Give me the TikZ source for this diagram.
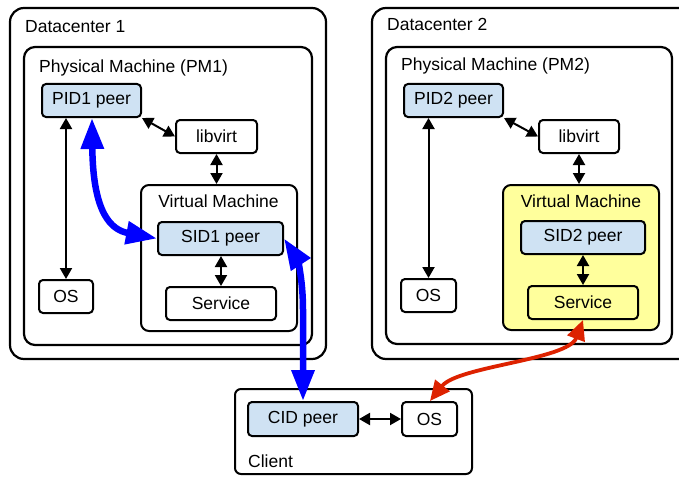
\documentclass[tikz,border=0pt]{standalone}
\usepackage{fontspec}
\setmainfont{Liberation Sans}
\usetikzlibrary{arrows.meta}
\definecolor{peerblue}{HTML}{CFE2F3}
\definecolor{vmyellow}{HTML}{FFFF9C}
\definecolor{linkblue}{HTML}{0000FF}
\definecolor{linkred}{HTML}{DD2200}
\tikzset{
  box/.style={draw=black, line width=2pt, rounded corners=4pt, inner sep=0pt,
              font=\fontsize{17.5}{21}\selectfont},
  peer/.style={box, fill=peerblue},
  container/.style={draw=black, line width=2.2pt, inner sep=0pt},
  lbl/.style={inner sep=0pt, font=\fontsize{17.5}{21}\selectfont},
  biarrow/.style={line width=2pt, {Triangle[length=11pt,width=12pt]}-{Triangle[length=11pt,width=12pt]}},
  bluearrow/.style={draw=linkblue, line width=6.5pt, {Triangle[length=31pt,width=22pt]}-{Triangle[length=31pt,width=22pt]}},
  redarrow/.style={draw=linkred, line width=3.8pt, {Triangle[length=20pt,width=18pt]}-{Triangle[length=20pt,width=18pt]}},
}
\begin{document}
\begin{tikzpicture}[x=1pt,y=-1pt]
\useasboundingbox (0,0) rectangle (679,476);
\clip (0,0) rectangle (679,476);
\fill[white] (0,0) rectangle (679,476);

% Datacenter 1
\node[container, rounded corners=14pt, minimum width=316pt, minimum height=351pt] (dc1) at (168,183.5) {};
\node[lbl, anchor=base west] (dc1lbl) at (25,33) {Datacenter 1};
\node[container, rounded corners=11pt, minimum width=288pt, minimum height=298pt] (pm1) at (168,196) {};
\node[lbl, anchor=base west] (pm1lbl) at (39,73) {Physical Machine (PM1)};
\node[peer, minimum width=99pt, minimum height=33pt] (pid1) at (91.5,100.5) {PID1 peer};
\node[box, minimum width=81pt, minimum height=33pt] (lib1) at (216.5,136.5) {libvirt};
\node[container, line width=2pt, rounded corners=8pt, minimum width=156pt, minimum height=146pt] (vm1) at (219,258) {};
\node[lbl, anchor=base] (vm1lbl) at (218.5,207) {Virtual Machine};
\node[peer, minimum width=125pt, minimum height=33pt] (sid1) at (220.5,238.5) {SID1 peer};
\node[box, minimum width=110pt, minimum height=33pt] (svc1) at (221,303.5) {Service};
\node[box, minimum width=54pt, minimum height=33pt] (os1) at (66,296.5) {OS};

% Datacenter 2
\node[container, rounded corners=14pt, minimum width=320pt, minimum height=351pt] (dc2) at (532,183.5) {};
\node[lbl, anchor=base west] (dc2lbl) at (387,31) {Datacenter 2};
\node[container, rounded corners=11pt, minimum width=286pt, minimum height=297pt] (pm2) at (529,195.5) {};
\node[lbl, anchor=base west] (pm2lbl) at (401,71) {Physical Machine (PM2)};
\node[peer, minimum width=99pt, minimum height=33pt] (pid2) at (453.5,100.5) {PID2 peer};
\node[box, minimum width=80pt, minimum height=33pt] (lib2) at (579,136.5) {libvirt};
\node[container, line width=2pt, fill=vmyellow, rounded corners=8pt, minimum width=156pt, minimum height=145pt] (vm2) at (581,257.5) {};
\node[lbl, anchor=base] (vm2lbl) at (581,207) {Virtual Machine};
\node[peer, minimum width=124pt, minimum height=33pt] (sid2) at (583,237.5) {SID2 peer};
\node[box, fill=vmyellow, minimum width=110pt, minimum height=33pt] (svc2) at (583,302.5) {Service};
\node[box, minimum width=55pt, minimum height=33pt] (os2) at (428.5,295.5) {OS};

% Client
\node[container, line width=2pt, rounded corners=6pt, minimum width=237pt, minimum height=85pt] (client) at (353.5,431.5) {};
\node[lbl, anchor=base west] (clientlbl) at (248,467) {Client};
\node[peer, minimum width=110pt, minimum height=34pt] (cid) at (303,419) {CID peer};
\node[box, minimum width=55pt, minimum height=34pt] (os3) at (429.5,419) {OS};

% Black connectors
\draw[biarrow] (pid1.south east) -- (lib1.west);
\draw[biarrow] (lib1.south) -- (lib1.south |- vm1.north);
\draw[biarrow] (os1.north |- pid1.south) -- (os1.north);
\draw[biarrow] (sid1.south -| svc1.north) -- (svc1.north);
\draw[biarrow] (pid2.south east) -- (lib2.west);
\draw[biarrow] (lib2.south) -- (lib2.south |- vm2.north);
\draw[biarrow] (os2.north |- pid2.south) -- (os2.north);
\draw[biarrow] (sid2.south -| svc2.north) -- (svc2.north);
\draw[biarrow] (cid.east) -- (os3.west);

% Blue connectors
\draw[bluearrow] ([xshift=0.5pt]pid1.south) .. controls (93,215) and (112,230) .. (sid1.west);
\draw[bluearrow] (sid1.east) .. controls (296,257) and (303,275) .. (303,310) -- (cid.north);

% Red connector
\draw[redarrow] (svc2.south) .. controls (568,360) and (458,366) .. (os3.north west -| 430,402);
\end{tikzpicture}
\end{document}
